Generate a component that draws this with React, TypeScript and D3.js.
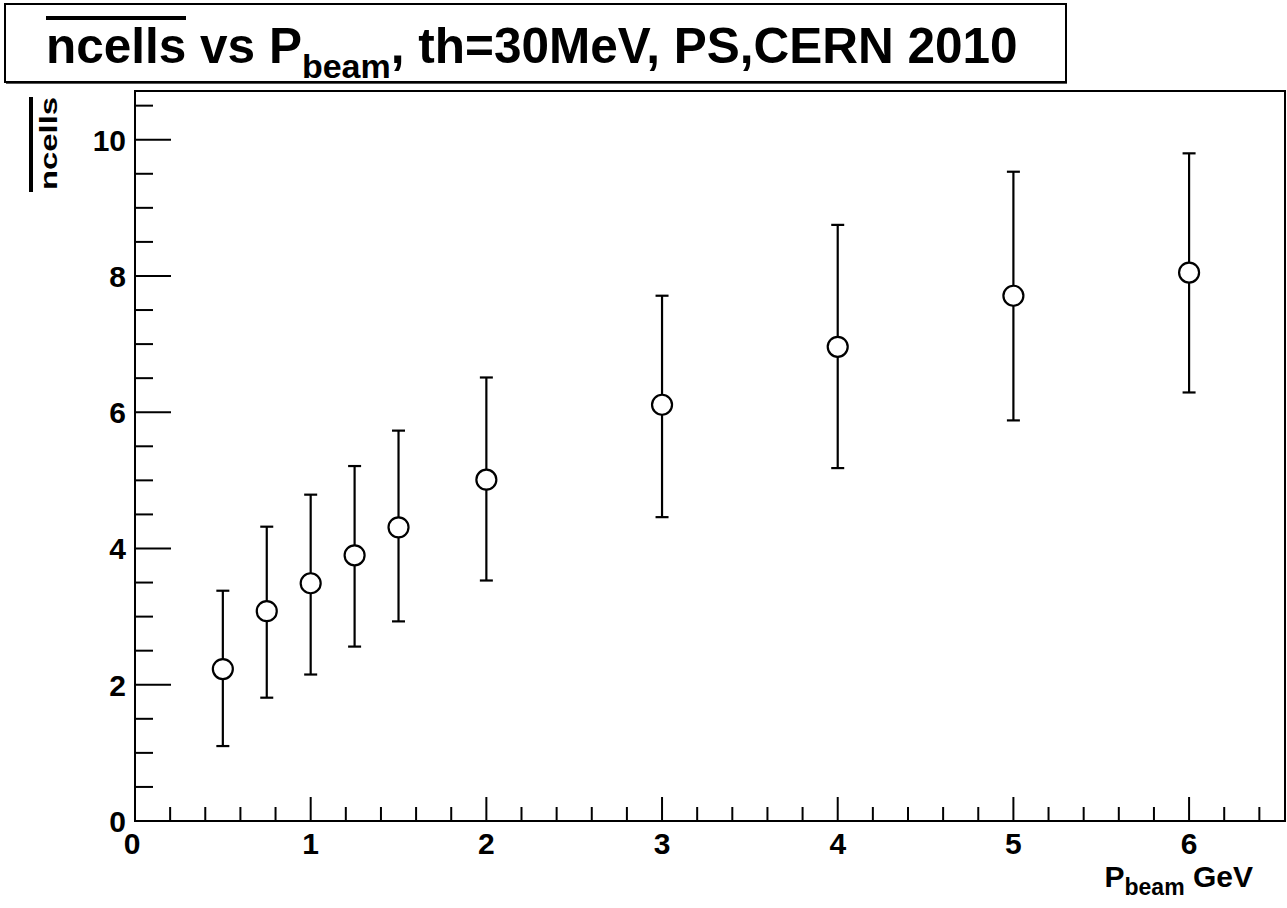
import React from "react";
import * as d3 from "d3";

const pbeam = [0.5, 0.75, 1, 1.25, 1.5, 2, 3, 4, 5, 6];
const ncells = [2.23, 3.08, 3.49, 3.9, 4.31, 5.01, 6.11, 6.96, 7.71, 8.05];
const errUp = [3.38, 4.32, 4.79, 5.21, 5.73, 6.51, 7.71, 8.75, 9.53, 9.8];
const errDown = [1.1, 1.81, 2.15, 2.56, 2.93, 3.53, 4.46, 5.18, 5.88, 6.29];
const xTickLabels = [0, 1, 2, 3, 4, 5, 6];
const yTickLabels = [0, 2, 4, 6, 8, 10];

const W = 1287;
const H = 908;
const FONT = "'Liberation Sans', Arial, Helvetica, sans-serif";

export default function App() {
  const left = 135, right = 1285, top = 91, bottom = 821;
  const x = d3.scaleLinear().domain([0, 6.546]).range([left, right]);
  const y = d3.scaleLinear().domain([0, 10.715]).range([bottom, top]);

  const xMinor = d3.range(0, 6.55, 0.2).filter((v) => Math.abs(v - Math.round(v)) > 1e-6);
  const yMinor = d3.range(0, 10.71, 0.5).filter((v) => Math.abs(v / 2 - Math.round(v / 2)) > 1e-6);

  const r = 10;
  const cap = 6.5;

  return (
    <svg
      width={W}
      height={H}
      style={{ position: "absolute", left: 0, top: 0, background: "#fff" }}
      fontFamily={FONT}
    >
      <rect x={0} y={0} width={W} height={H} fill="#fff" />
      {/* Title box */}
      <rect x={5} y={4} width={1061} height={78} fill="#fff" stroke="#000" strokeWidth={2} />
      <line x1={6} y1={83.5} x2={1067} y2={83.5} stroke="#555" strokeWidth={1} />
      <line x1={46} y1={18} x2={186} y2={18} stroke="#000" strokeWidth={4} />
      <text x={46} y={63} fontSize={49.5} fontWeight="bold" fill="#000">
        ncells vs P
        <tspan fontSize={34} dy={15}>beam</tspan>
        <tspan dy={-15}>, th=30MeV, PS,CERN 2010</tspan>
      </text>

      {/* Frame */}
      <rect x={left} y={top} width={right - left} height={bottom - top} fill="none" stroke="#000" strokeWidth={2} />

      {/* Y axis ticks */}
      {yTickLabels.map((v) => (
        <g key={"yt" + v}>
          <line x1={left} x2={left + 36} y1={y(v)} y2={y(v)} stroke="#000" strokeWidth={2} />
          <text x={126} y={y(v) + 11} fontSize={30} fontWeight="bold" textAnchor="end">
            {v}
          </text>
        </g>
      ))}
      {yMinor.map((v) => (
        <line key={"ym" + v} x1={left} x2={left + 18} y1={y(v)} y2={y(v)} stroke="#000" strokeWidth={2} />
      ))}

      {/* X axis ticks */}
      {xTickLabels.map((v) => (
        <g key={"xt" + v}>
          <line x1={x(v)} x2={x(v)} y1={bottom} y2={bottom - 24} stroke="#000" strokeWidth={2} />
          <text x={x(v) - (v === 0 ? 3 : 0)} y={854} fontSize={30} fontWeight="bold" textAnchor="middle">
            {v}
          </text>
        </g>
      ))}
      {xMinor.map((v) => (
        <line key={"xm" + v} x1={x(v)} x2={x(v)} y1={bottom} y2={bottom - 14} stroke="#000" strokeWidth={2} />
      ))}

      {/* Axis titles */}
      <text x={1253} y={887} fontSize={30} fontWeight="bold" textAnchor="end">
        P<tspan fontSize={23} dy={8}>beam</tspan>
        <tspan dy={-8}> GeV</tspan>
      </text>
      <g transform="translate(57,190) rotate(-90)">
        <text x={0} y={0} fontSize={24} fontWeight="bold" textLength={93} lengthAdjust="spacingAndGlyphs">
          ncells
        </text>
      </g>
      <line x1={31} x2={31} y1={97} y2={192} stroke="#000" strokeWidth={4} />

      {/* Data */}
      {pbeam.map((p, i) => {
        const cx = x(p);
        const cy = y(ncells[i]);
        const yu = y(errUp[i]);
        const yd = y(errDown[i]);
        return (
          <g key={"pt" + i} stroke="#000" strokeWidth={2.2} fill="none">
            <line x1={cx} x2={cx} y1={yu} y2={cy - r} />
            <line x1={cx} x2={cx} y1={cy + r} y2={yd} />
            <line x1={cx - cap} x2={cx + cap} y1={yu} y2={yu} />
            <line x1={cx - cap} x2={cx + cap} y1={yd} y2={yd} />
            <circle cx={cx} cy={cy} r={r} />
          </g>
        );
      })}
    </svg>
  );
}
